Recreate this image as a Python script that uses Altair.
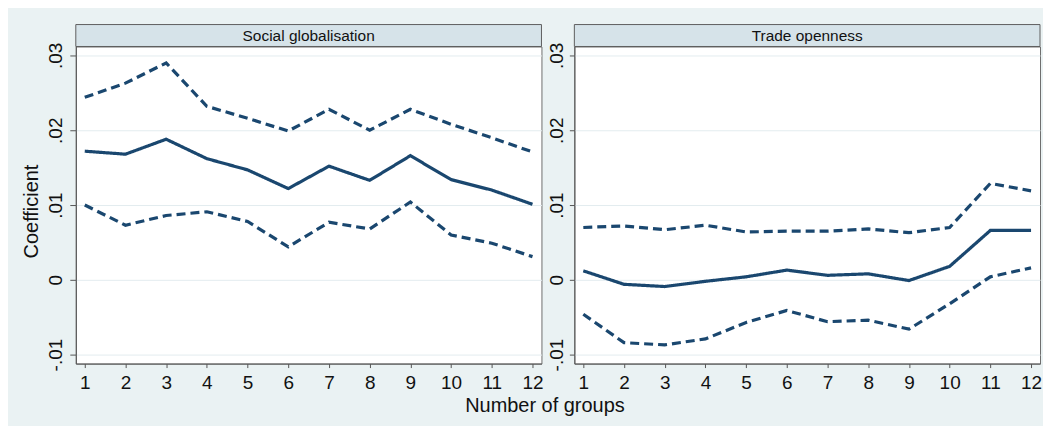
import altair as alt
import pandas as pd

# ---- data ----
groups = list(range(1, 13))

soc_est = [0.0172, 0.0168, 0.0188, 0.0162, 0.0147, 0.0122, 0.0152, 0.0133, 0.0166, 0.0134, 0.0120, 0.0101]
soc_hi = [0.0244, 0.0263, 0.0290, 0.0232, 0.0216, 0.0199, 0.0228, 0.0200, 0.0228, 0.0208, 0.0190, 0.0171]
soc_lo = [0.0100, 0.0073, 0.0086, 0.0091, 0.0078, 0.0044, 0.0077, 0.0068, 0.0104, 0.0060, 0.0049, 0.0031]

trade_est = [0.0012, -0.0006, -0.0009, -0.0002, 0.0004, 0.0013, 0.0006, 0.0008, -0.0001, 0.0018, 0.0066, 0.0066]
trade_hi = [0.0070, 0.0072, 0.0067, 0.0073, 0.0064, 0.0065, 0.0065, 0.0068, 0.0063, 0.0070, 0.0129, 0.0119]
trade_lo = [-0.0046, -0.0084, -0.0087, -0.0079, -0.0057, -0.0041, -0.0056, -0.0054, -0.0066, -0.0032, 0.0004, 0.0016]

panel_titles = ["Social globalisation", "Trade openness"]
y_ticks = [-0.01, 0.0, 0.01, 0.02, 0.03]
series_names = ["Estimate", "Lower", "Upper"]

FONT = "Liberation Sans"
NAVY = "#1a476f"
W, H = 467, 318
STRIP = 22


def panel_df(est, lo, hi):
    rows = []
    for s, vals in zip(series_names, (est, lo, hi)):
        for g, v in zip(groups, vals):
            rows.append({"group": g, "value": v, "series": s})
    return pd.DataFrame(rows)


LABEL_EXPR = (
    "datum.value == 0 ? '0' : (datum.value < 0 ? '-' : '') + "
    "replace(format(abs(datum.value), '.2f'), '0.', '.')"
)


def panel(title, df, first):
    x = alt.X(
        "group:Q",
        scale=alt.Scale(domain=[0.78, 12.22], nice=False, zero=False),
        axis=alt.Axis(
            values=groups,
            title="Number of groups" if first else None,
            titleX=470,
            titleFont=FONT,
            titleFontSize=20,
            titleFontWeight="normal",
            titleColor="#111",
            titlePadding=3,
            labelFont=FONT,
            labelFontSize=19,
            labelColor="#111",
            labelPadding=6,
            tickSize=4,
            tickColor="#555",
            domainColor="#555",
            grid=False,
            labelFlush=False,
            labelOverlap=False,
        ),
    )
    y = alt.Y(
        "value:Q",
        scale=alt.Scale(domain=[-0.0112, 0.0312], nice=False, zero=False),
        axis=alt.Axis(
            values=y_ticks,
            labelExpr=LABEL_EXPR,
            title="Coefficient" if first else None,
            titleFont=FONT,
            titleFontSize=20,
            titleFontWeight="normal",
            titleColor="#111",
            titlePadding=5,
            titleY=165,
            labelFont=FONT,
            labelFontSize=19,
            labelColor="#111",
            labelAngle=270,
            labelAlign="center",
            labelBaseline="bottom",
            labelPadding=4 if first else 3,
            tickSize=6 if first else 5,
            tickColor="#555",
            domainColor="#555",
            grid=True,
            gridColor="#e3ecef",
            gridWidth=1,
            labelFlush=False,
            labelOverlap=False,
        ),
    )
    lines = alt.Chart(df).mark_line(color=NAVY, strokeWidth=3.2).encode(
        x=x,
        y=y,
        detail="series:N",
        strokeDash=alt.StrokeDash(
            "series:N",
            scale=alt.Scale(domain=series_names, range=[[1, 0], [9, 5], [9, 5]]),
            legend=None,
        ),
    )
    tdf = pd.DataFrame({"t": [title]})
    strip = alt.Chart(tdf).mark_rect(fill="#d6e3e9", stroke="#5e5e5e", strokeWidth=1).encode(
        x=alt.value(0), x2=alt.value(W), y=alt.value(-STRIP), y2=alt.value(0)
    )
    text = alt.Chart(tdf).mark_text(font=FONT, fontSize=15.5, color="#111", baseline="middle").encode(
        text="t:N", x=alt.value(W / 2), y=alt.value(-STRIP / 2)
    )
    return alt.layer(lines, strip, text).properties(width=W, height=H)


left = panel(panel_titles[0], panel_df(soc_est, soc_lo, soc_hi), True)
right = panel(panel_titles[1], panel_df(trade_est, trade_lo, trade_hi), False)

chart = (
    alt.hconcat(left, right, spacing=33, bounds="flush")
    .properties(padding={"left": 13, "top": 15, "right": 0, "bottom": 9}, background="#eaf2f3")
    .configure_view(stroke="#6e6e6e", strokeWidth=1, fill="white")
)

chart.save("out.html", embed_options={"renderer": "svg", "actions": False})
